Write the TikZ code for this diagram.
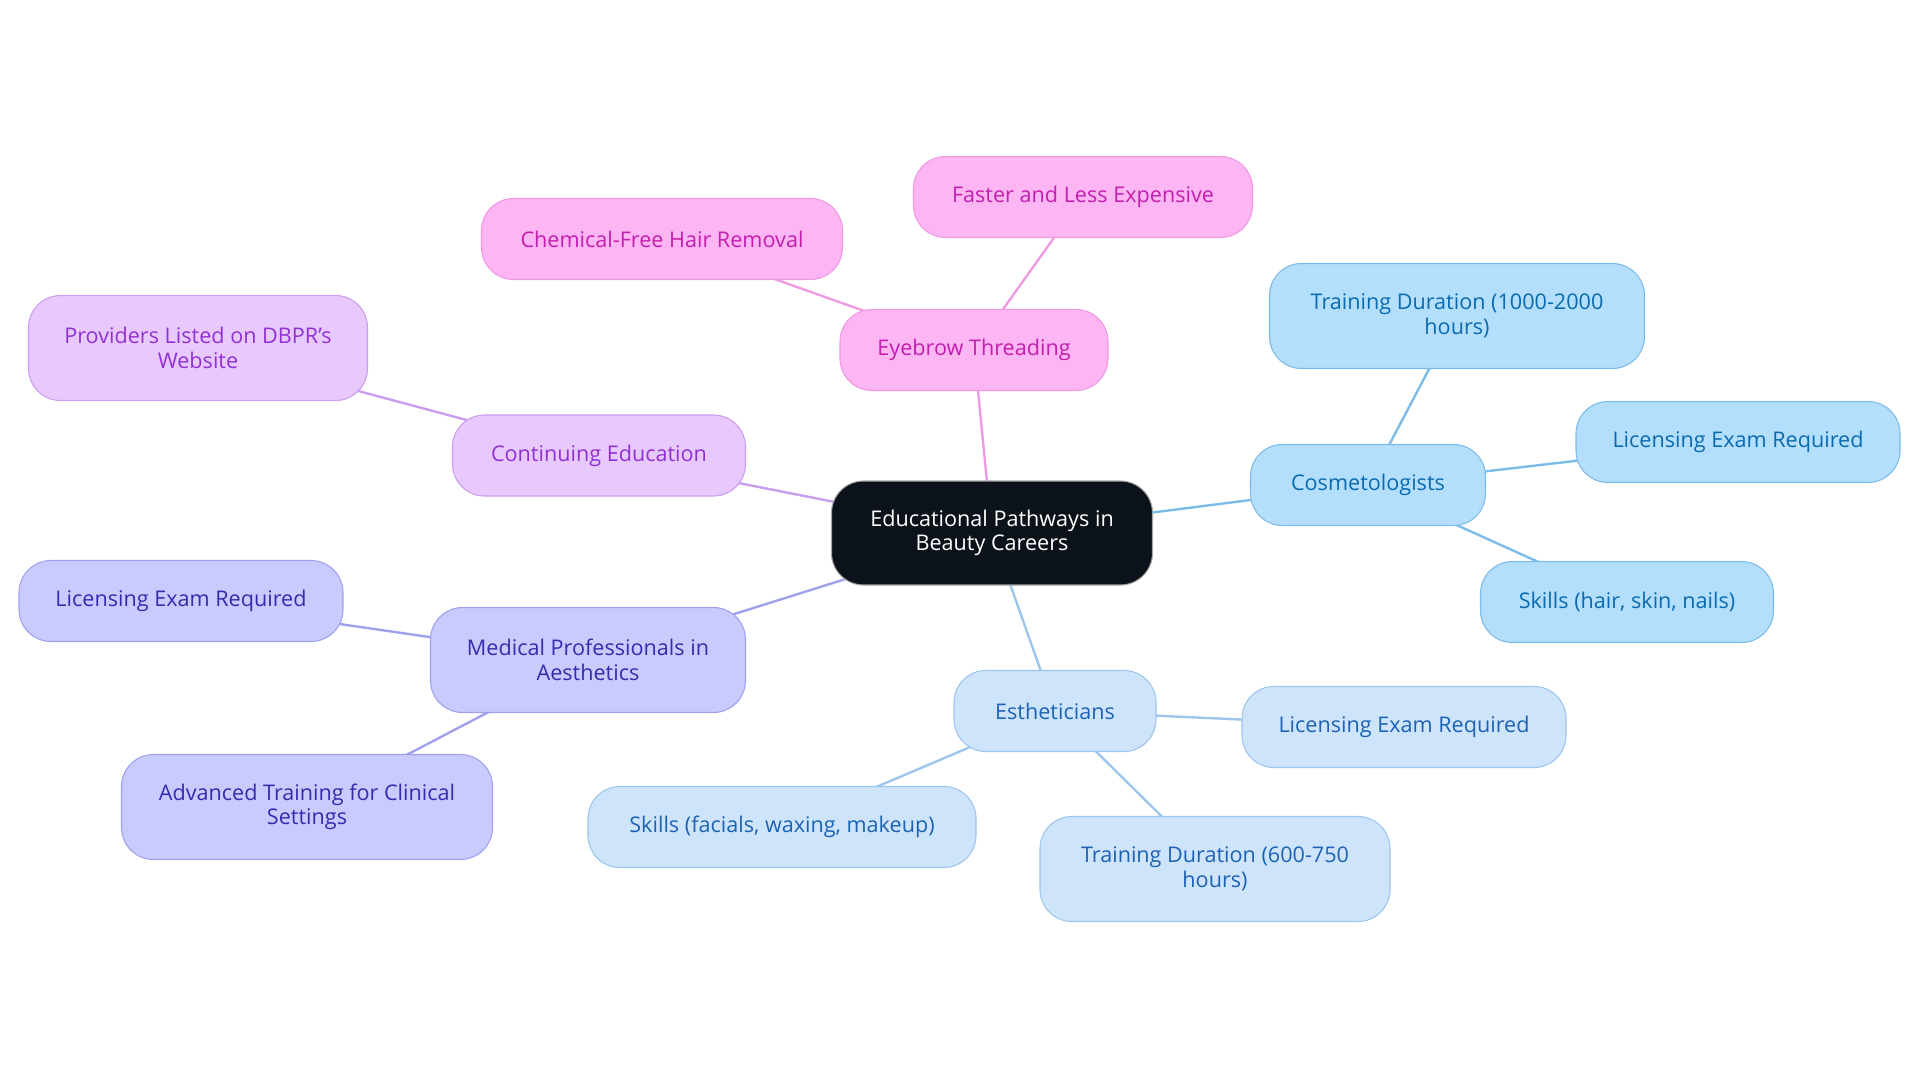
\documentclass[tikz,border=0pt]{standalone}
\usepackage{fontspec}
\setmainfont{Open Sans}
\usetikzlibrary{backgrounds}
\definecolor{pkF}{HTML}{FDB5F4}\definecolor{pkD}{HTML}{EE9BE3}\definecolor{pkT}{HTML}{C21FAE}
\definecolor{puF}{HTML}{E8C9FE}\definecolor{puD}{HTML}{CB9DEE}\definecolor{puT}{HTML}{9131D3}
\definecolor{peF}{HTML}{C9CAFE}\definecolor{peD}{HTML}{9FA1EC}\definecolor{peT}{HTML}{3A2AAE}
\definecolor{ebF}{HTML}{CEE4FB}\definecolor{ebD}{HTML}{9EC5EC}\definecolor{ebT}{HTML}{1D63B5}
\definecolor{cbF}{HTML}{B3DEFC}\definecolor{cbD}{HTML}{7DBCE9}\definecolor{cbT}{HTML}{0B6BAF}
\definecolor{ctrF}{HTML}{0C1219}
\tikzset{
  box/.style={rectangle, rounded corners=24pt, inner sep=0pt, align=center, line width=0.8pt,
    font=\fontsize{16.2pt}{18.4pt}\selectfont, minimum height=60.75pt},
  tall/.style={minimum height=78.75pt},
  pk/.style={box, fill=pkF, draw=pkD, text=pkT},
  pu/.style={box, fill=puF, draw=puD, text=puT},
  pe/.style={box, fill=peF, draw=peD, text=peT},
  eb/.style={box, fill=ebF, draw=ebD, text=ebT},
  cb/.style={box, fill=cbF, draw=cbD, text=cbT},
  ctr/.style={box, fill=ctrF, draw=gray!70, text=white, minimum height=78pt},
  lk/.style={line width=1.8pt}
}
\begin{document}
\begin{tikzpicture}[x=0.75pt,y=-0.75pt]
\useasboundingbox (0,0) rectangle (1920,1083);
\node[ctr, minimum width=240.75pt] (c) at (992,533) {Educational Pathways in\\Beauty Careers};
\node[pk, minimum width=201pt] (eb) at (974,350) {Eyebrow Threading};
\node[pk, minimum width=254.25pt] (eb1) at (1083,197) {Faster and Less Expensive};
\node[pk, minimum width=270.75pt] (eb2) at (662,239) {Chemical-Free Hair Removal};
\node[pu, minimum width=219.75pt] (ce) at (599,455.5) {Continuing Education};
\node[pu, tall, minimum width=254.25pt] (ce1) at (198,348) {Providers Listed on DBPR's\\Website};
\node[pe, tall, minimum width=236.25pt] (mp) at (588,660) {Medical Professionals in\\Aesthetics};
\node[pe, minimum width=243pt] (mp1) at (181,601) {Licensing Exam Required};
\node[pe, tall, minimum width=278.25pt] (mp2) at (307,807) {Advanced Training for Clinical\\Settings};
\node[eb, minimum width=151.5pt] (es) at (1055,711) {Estheticians};
\node[eb, minimum width=243pt] (es1) at (1404,727) {Licensing Exam Required};
\node[eb, minimum width=291pt] (es2) at (782,827) {Skills (facials, waxing, makeup)};
\node[eb, tall, minimum width=262.5pt] (es3) at (1215,869) {Training Duration (600-750\\hours)};
\node[cb, minimum width=176.25pt] (co) at (1368,485) {Cosmetologists};
\node[cb, tall, minimum width=281.25pt] (co1) at (1457,316) {Training Duration (1000-2000\\hours)};
\node[cb, minimum width=243pt] (co2) at (1738,442) {Licensing Exam Required};
\node[cb, minimum width=219.75pt] (co3) at (1627,602) {Skills (hair, skin, nails)};
\begin{scope}[on background layer]
\draw[lk, draw=pkD] (c.center) -- (eb.center) (eb.center) -- (eb1.center) (eb.center) -- (eb2.center);
\draw[lk, draw=puD] (c.center) -- (ce.center) (ce.center) -- (ce1.center);
\draw[lk, draw=peD] (c.center) -- (mp.center) (mp.center) -- (mp1.center) (mp.center) -- (mp2.center);
\draw[lk, draw=ebD] (c.center) -- (es.center) (es.center) -- (es1.center) (es.center) -- (es2.center) (es.center) -- (es3.center);
\draw[lk, draw=cbD] (c.center) -- (co.center) (co.center) -- (co1.center) (co.center) -- (co2.center) (co.center) -- (co3.center);
\end{scope}
\end{tikzpicture}
\end{document}
